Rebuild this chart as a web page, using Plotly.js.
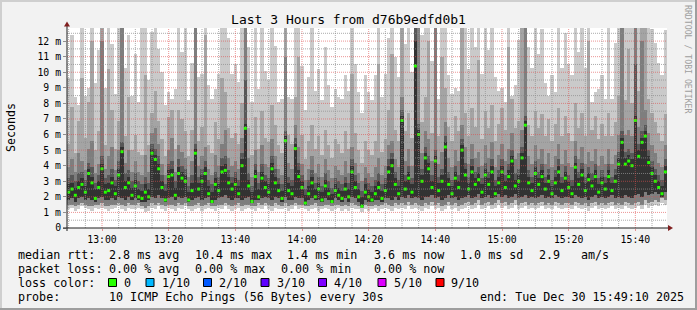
<!DOCTYPE html>
<html><head><meta charset="utf-8">
<script src="https://cdn.plot.ly/plotly-3.0.1.min.js"></script>
<style>html,body{margin:0;padding:0;background:#f2f2f2;}#chart{width:697px;height:310px;}
#chart .barlayer path{shape-rendering:crispEdges;}</style>
</head><body><div id="chart"></div>
<script>
// one value per minute, 12:50 .. 15:49 (ms)
const median = [
2.3,2.5,2.1,2.6,2.8,2.3,3.5,2.9,1.9,2.6,
3.8,2.3,2.4,2.9,2.2,3.4,4.9,2.6,2.9,2.1,
2.7,2.0,1.9,2.3,2.0,4.8,4.4,3.8,2.6,1.8,
3.3,3.4,2.1,3.5,3.2,3.0,1.8,2.4,4.8,2.5,
3.0,3.5,2.2,1.7,2.8,2.4,3.6,3.7,2.9,2.5,
2.8,2.2,4.0,6.4,2.7,1.7,3.3,2.0,3.2,2.6,
2.3,3.8,2.9,2.4,1.9,5.6,2.4,2.2,5.1,3.3,
2.6,1.6,2.2,2.9,2.0,2.5,1.8,2.7,2.2,1.7,
2.4,2.1,1.9,2.5,2.0,3.6,2.6,2.0,1.4,2.3,
2.0,1.8,2.2,2.6,1.9,2.4,3.6,4.0,2.8,2.2,
6.9,2.5,3.2,2.3,10.4,6.0,3.0,4.5,3.8,2.6,
4.3,2.4,3.0,5.2,2.8,2.2,3.2,2.6,5.0,3.4,
2.5,3.6,2.8,3.1,2.3,3.4,2.8,3.6,2.2,2.9,
3.6,2.6,3.3,4.3,2.7,3.0,4.5,6.6,2.9,2.4,
3.5,2.8,3.3,2.5,3.0,2.2,2.9,3.6,2.4,3.2,
2.6,2.2,3.9,2.8,3.4,2.4,3.1,2.7,3.3,2.3,
2.9,2.5,3.3,2.4,3.0,4.1,5.5,4.1,4.3,4.0,
6.9,4.6,5.5,5.9,4.2,3.5,3.0,2.6,2.2,3.6];
// smoke: ping 1 (min)
const pingMin = [
1.2,1.3,1.1,1.2,1.4,1.3,1.2,1.1,1.3,1.2,
1.3,1.2,1.1,1.2,1.3,1.4,1.2,1.1,1.3,1.2,
1.2,1.3,1.2,1.0,1.1,1.3,1.2,1.4,1.2,1.1,
1.3,1.2,1.1,1.3,1.2,1.4,1.2,1.1,1.2,1.3,
1.1,1.2,1.3,1.2,1.1,1.3,1.2,1.4,1.2,1.1,
1.2,1.3,1.1,1.2,1.3,1.2,1.1,1.3,1.2,1.4,
1.2,1.1,1.3,1.2,1.2,1.3,1.1,1.2,1.4,1.2,
1.3,1.2,1.1,1.2,1.3,1.1,1.2,1.3,1.2,1.1,
1.2,1.3,1.1,1.2,1.1,1.3,1.2,1.2,1.0,1.2,
1.1,1.2,1.3,1.1,1.2,1.3,1.2,1.1,1.3,1.2,
1.3,1.2,1.4,1.2,1.3,1.2,1.1,1.3,1.2,1.4,
1.2,1.3,1.1,1.2,1.4,1.2,1.3,1.1,1.2,1.3,
1.4,1.2,1.3,1.5,1.2,1.3,1.4,1.2,1.3,1.5,
1.3,1.4,1.2,1.3,1.5,1.2,1.3,1.4,1.2,1.3,
1.2,1.3,1.4,1.2,1.3,1.2,1.4,1.3,1.2,1.3,
1.3,1.2,1.4,1.3,1.2,1.3,1.1,1.3,1.4,1.2,
1.3,1.2,1.3,1.4,1.2,1.3,1.2,1.4,1.3,1.2,
1.3,1.4,1.2,1.5,1.3,1.4,1.5,1.4,1.6,1.5];
// ping 2
const pingLow = [
1.5,1.5,1.4,1.5,1.6,1.5,1.4,1.4,1.5,1.5,
1.6,1.4,1.4,1.5,1.5,1.6,1.5,1.4,1.6,1.5,
1.5,1.6,1.4,1.3,1.4,1.6,1.5,1.6,1.5,1.4,
1.5,1.5,1.4,1.6,1.5,1.6,1.4,1.4,1.5,1.6,
1.4,1.5,1.6,1.4,1.4,1.5,1.5,1.6,1.5,1.4,
1.5,1.6,1.4,1.5,1.5,1.4,1.4,1.6,1.5,1.6,
1.5,1.4,1.6,1.5,1.4,1.6,1.4,1.5,1.6,1.5,
1.5,1.4,1.4,1.5,1.6,1.4,1.4,1.5,1.5,1.4,
1.5,1.5,1.4,1.5,1.4,1.6,1.5,1.4,1.3,1.5,
1.4,1.4,1.5,1.4,1.5,1.6,1.5,1.4,1.6,1.5,
1.6,1.5,1.7,1.5,1.6,1.5,1.4,1.6,1.5,1.7,
1.5,1.6,1.4,1.5,1.7,1.5,1.6,1.4,1.5,1.6,
1.7,1.5,1.6,1.8,1.5,1.6,1.7,1.5,1.6,1.8,
1.6,1.7,1.5,1.6,1.8,1.5,1.6,1.7,1.5,1.6,
1.5,1.6,1.7,1.5,1.6,1.5,1.7,1.6,1.5,1.6,
1.6,1.5,1.7,1.6,1.5,1.6,1.4,1.6,1.7,1.5,
1.6,1.5,1.6,1.7,1.5,1.6,1.5,1.7,1.6,1.5,
1.6,1.7,1.5,1.8,1.6,1.7,1.8,1.7,1.9,1.8];
// ping 4
const pingCoreLo = [
1.8,1.9,1.7,1.9,2.0,1.8,1.9,1.8,1.7,1.9,
2.0,1.8,1.8,1.9,1.8,2.0,1.9,1.8,2.0,1.8,
1.9,1.8,1.7,1.7,1.8,2.0,1.9,2.1,1.9,1.7,
1.9,2.0,1.8,2.0,1.9,2.0,1.7,1.8,1.9,2.0,
1.8,1.9,2.0,1.6,1.8,1.9,2.0,2.1,1.9,1.8,
1.9,1.9,1.8,1.9,2.0,1.6,1.8,1.8,1.9,2.0,
1.9,1.8,2.0,1.9,1.7,2.0,1.8,1.8,2.0,1.9,
1.9,1.5,1.8,1.9,1.8,1.8,1.7,1.9,1.8,1.6,
1.9,1.8,1.7,1.9,1.7,2.0,1.9,1.7,1.4,1.8,
1.7,1.7,1.8,1.8,1.7,1.9,1.9,1.8,2.0,1.8,
2.0,1.9,2.1,1.9,2.0,1.9,1.8,2.0,2.0,2.1,
1.9,2.0,1.8,1.9,2.1,1.9,2.0,1.8,1.9,2.0,
2.1,1.9,2.0,2.2,1.9,2.0,2.1,1.9,2.0,2.2,
2.0,2.1,1.9,2.0,2.2,1.9,2.0,2.1,1.9,2.0,
1.9,2.0,2.1,1.9,2.0,1.9,2.1,2.0,1.9,2.0,
2.0,1.9,2.1,2.0,1.9,2.0,1.8,2.0,2.1,1.9,
2.0,1.9,2.0,2.1,1.9,2.0,1.9,2.1,2.0,1.9,
2.1,2.2,2.0,2.3,2.1,2.2,2.3,2.2,2.0,2.3];
// ping 6
const pingCoreHi = [
2.8,2.9,2.6,3.0,3.2,2.7,3.8,3.3,2.5,3.0,
4.1,2.8,2.9,3.3,2.7,3.8,5.2,3.0,3.3,2.6,
3.1,2.5,2.4,2.8,2.5,5.1,4.7,4.1,3.0,2.4,
3.7,3.8,2.6,3.9,3.6,3.4,2.3,2.9,5.1,2.9,
3.4,3.9,2.7,2.3,3.2,2.8,4.0,4.1,3.3,2.9,
3.2,2.7,4.4,6.7,3.1,2.3,3.7,2.5,3.6,3.0,
2.8,4.2,3.3,2.8,2.4,5.9,2.9,2.7,5.4,3.7,
3.0,2.1,2.7,3.3,2.5,2.9,2.3,3.1,2.6,2.2,
2.8,2.6,2.4,2.9,2.5,4.0,3.0,2.5,2.0,2.8,
2.5,2.3,2.7,3.0,2.4,2.8,4.0,4.4,3.2,2.7,
7.2,3.0,3.6,2.8,12.0,6.3,3.4,4.8,4.2,3.0,
4.6,2.9,3.4,5.5,3.2,2.7,3.6,3.0,5.3,3.8,
2.9,4.0,3.2,3.5,2.8,3.8,3.2,4.0,2.7,3.3,
4.0,3.0,3.7,4.6,3.1,3.4,4.8,6.9,3.3,2.9,
3.9,3.2,3.7,2.9,3.4,2.7,3.3,4.0,2.9,3.6,
3.0,2.7,4.2,3.2,3.8,2.9,3.5,3.1,3.7,2.8,
3.3,2.9,3.7,2.9,3.4,4.5,5.8,4.5,4.7,4.4,
7.2,5.0,5.8,6.2,4.6,3.9,3.4,3.0,2.7,4.0];
// ping 7
const ping7 = [
3.2,3.4,3.0,3.5,3.6,3.1,4.2,3.9,2.9,3.4,
4.6,3.2,3.4,3.8,3.1,4.3,5.5,3.5,3.7,3.0,
3.5,3.0,2.8,3.3,2.9,5.4,5.1,4.6,3.4,2.8,
4.1,4.3,3.0,4.4,4.0,3.8,2.7,3.4,5.4,3.3,
3.8,4.3,3.1,2.8,3.6,3.3,4.5,4.6,3.7,3.3,
3.6,3.1,4.8,9.5,3.5,2.7,4.1,2.9,4.1,3.4,
3.2,4.6,3.8,3.2,2.8,6.2,3.3,3.1,5.8,4.2,
3.4,2.5,3.1,3.7,2.9,3.3,2.7,3.5,3.0,2.6,
3.2,3.0,2.8,3.3,2.9,4.4,3.4,2.9,2.4,3.2,
2.9,2.7,3.1,3.5,2.8,3.2,4.4,4.8,3.6,3.1,
7.6,3.4,4.0,3.2,13.0,6.7,3.8,5.2,4.6,3.4,
5.0,3.3,3.8,5.9,3.6,3.1,4.0,3.4,5.7,4.2,
3.3,4.4,3.6,3.9,3.2,4.2,3.6,4.4,3.1,3.7,
4.4,3.4,4.1,5.0,3.5,3.8,5.2,7.2,3.7,3.3,
4.3,3.6,4.1,3.3,3.8,3.1,3.7,4.4,3.3,4.0,
3.4,3.1,4.6,3.6,4.2,3.3,3.9,3.5,4.1,3.2,
3.7,3.3,4.1,3.3,3.8,4.9,6.2,4.9,5.1,4.8,
10.5,5.4,6.2,6.6,5.0,4.3,3.8,3.4,3.1,4.4];
// ping 8
const ping8 = [
3.9,4.4,3.6,4.8,4.3,3.7,5.1,5.6,3.5,4.1,
12.0,3.8,4.6,5.2,3.7,5.0,13.0,4.2,5.0,3.6,
4.3,3.6,3.4,4.7,3.6,6.1,6.4,5.4,4.1,3.4,
5.0,5.8,3.6,5.3,4.9,4.5,3.3,4.3,13.0,4.0,
4.6,5.2,3.8,3.4,4.7,4.0,5.4,6.3,4.5,4.0,
4.3,3.8,5.8,13.0,4.5,3.3,5.0,3.6,5.3,4.1,
3.9,5.7,4.6,3.8,3.4,11.0,4.2,3.8,6.6,5.2,
4.1,3.1,3.8,4.6,3.5,4.1,3.3,4.4,3.7,3.2,
4.0,3.7,3.4,4.3,3.5,5.2,4.2,3.5,3.0,3.9,
3.5,3.3,3.9,4.5,3.4,4.0,5.3,5.6,4.4,3.9,
8.4,4.3,5.1,4.0,13.0,13.0,4.8,6.2,5.7,4.3,
13.0,4.1,4.9,6.8,4.5,3.9,5.0,4.3,6.6,5.2,
4.1,5.4,4.5,4.9,4.0,5.3,4.5,5.5,3.9,4.7,
5.4,4.3,5.1,6.1,4.4,4.8,6.3,13.0,4.6,4.1,
5.3,4.4,5.1,4.1,4.8,3.9,4.6,5.4,4.1,5.0,
4.2,3.9,5.6,4.4,5.2,4.1,4.9,4.3,5.1,4.0,
4.6,4.1,5.1,4.1,4.7,6.0,13.0,6.0,6.3,5.9,
13.0,6.5,12.0,7.6,6.1,5.3,4.8,4.2,3.9,5.3];
// ping 9
const ping9 = [
5.4,7.8,4.8,6.9,9.6,5.8,8.1,12.0,5.0,6.2,
13.0,5.3,10.2,7.6,5.1,6.9,13.0,5.9,8.4,5.0,
6.0,4.9,4.7,9.8,5.3,7.4,8.8,6.9,5.7,4.6,
7.1,7.6,5.1,7.6,7.0,6.2,4.6,6.3,13.0,5.6,
6.5,12.4,5.3,4.8,6.8,5.7,9.6,8.7,6.4,5.8,
6.1,5.4,8.0,13.0,6.4,4.7,7.1,5.1,7.5,5.8,
5.5,7.9,6.6,5.3,4.8,13.0,6.0,5.4,8.4,11.0,
6.0,4.4,5.6,6.6,5.1,5.9,4.7,6.3,5.3,4.5,
5.7,5.4,4.8,6.2,5.1,9.9,6.1,5.0,4.2,5.6,
5.0,4.7,5.6,10.5,4.9,5.7,7.6,11.2,6.3,5.6,
13.0,6.2,7.4,5.8,13.0,13.0,6.8,8.4,12.0,6.1,
13.0,5.9,11.0,9.0,6.5,5.6,7.2,6.2,13.0,7.4,
5.9,7.7,6.5,10.8,5.7,7.5,6.4,7.9,5.6,6.7,
7.7,6.3,11.6,8.3,6.4,6.9,13.0,13.0,6.6,5.9,
7.5,6.4,7.3,5.9,7.0,5.6,6.7,7.7,5.9,7.2,
6.1,5.6,8.0,6.4,7.4,5.9,12.0,6.3,7.2,5.7,
6.7,5.9,7.4,5.9,6.8,8.5,13.0,8.2,11.5,8.0,
13.0,8.8,13.0,13.0,8.3,7.4,6.8,6.1,5.6,7.3];
// ping 10 (max)
const pingMax = [
9.6,12.4,8.4,7.9,13.0,8.5,9.0,13.0,9.3,11.4,
13.0,9.0,13.0,11.8,8.6,13.0,13.0,10.3,12.4,8.5,
11.2,8.1,13.0,13.0,9.5,12.6,13.0,11.5,10.0,7.9,
8.7,8.3,8.9,13.0,11.3,13.0,8.2,10.6,13.0,9.7,
9.9,13.0,9.2,8.3,8.9,9.9,13.0,13.0,12.2,9.9,
10.5,9.4,13.0,13.0,11.6,8.1,13.0,8.9,13.0,10.1,
9.5,13.0,11.7,8.1,8.3,13.0,8.4,8.3,13.0,13.0,
10.4,7.6,9.7,13.0,8.8,10.2,8.2,11.6,9.2,7.8,
8.9,8.4,8.3,9.8,8.8,13.0,10.5,8.7,7.4,9.8,
8.7,8.2,9.8,13.0,8.4,9.9,12.2,13.0,11.0,9.7,
13.0,11.8,13.0,10.0,13.0,13.0,12.4,13.0,13.0,10.7,
13.0,8.3,13.0,13.0,9.8,8.6,9.0,8.8,13.0,12.9,
10.2,13.0,11.6,13.0,9.9,13.0,11.4,13.0,9.7,8.8,
9.0,8.1,13.0,8.5,9.2,12.1,13.0,13.0,11.6,10.3,
13.0,11.2,12.8,9.3,8.5,9.8,8.7,13.0,10.3,12.5,
10.5,9.8,13.0,11.3,12.9,10.3,13.0,8.1,8.7,8.9,
9.8,8.3,13.0,8.3,11.9,13.0,13.0,13.0,13.0,13.0,
13.0,13.0,13.0,13.0,13.0,12.8,11.9,10.6,9.8,12.7];

const yTickVals = [0,1,2,3,4,5,6,7,8,9,10,11,12];
const yTickText = ['0','1 m','2 m','3 m','4 m','5 m','6 m','7 m','8 m','9 m','10 m','11 m','12 m'];
const titleText = 'Last 3 Hours from d76b9edfd0b1';
const rttStats = ['2.8 ms avg','10.4 ms max','1.4 ms min','3.6 ms now','1.0 ms sd','2.9','am/s'];
const lossStats = ['0.00 % avg','0.00 % max','0.00 % min','0.00 % now'];
const lossLabels = ['0','1/10','2/10','3/10','4/10','5/10','9/10'];
const lossColors = ['#26ff00','#00b8ff','#0059ff','#5e00ff','#7e00ff','#dd00ff','#ff0000'];
const probeText = '10 ICMP Echo Pings (56 Bytes) every 30s';
const endText = 'end: Tue Dec 30 15:49:10 2025';

// ---- geometry helpers ----
const L=67, T=28, PW=600, PH=200;
const px = p => (p-L)/PW;
const py = p => (T+PH-p)/PH;
const pad = n => (n<10?'0':'')+n;
const tstr = m => `2025-12-30 ${pad(Math.floor(m/60))}:${pad(m%60)}:00`;
const startMin = 12*60+50;
const times = median.map((_,i)=>tstr(startMin+i));

const bands = [
  {lo:pingMin, hi:pingMax, c:'#cacaca'},
  {lo:pingLow, hi:ping9, c:'#a4a4a4'},
  {lo:pingLow, hi:ping8, c:'#7e7e7e'},
  {lo:pingCoreLo, hi:ping7, c:'#585858'},
  {lo:pingCoreLo, hi:pingCoreHi, c:'#323232'}
];
const traces = bands.map(b=>({
  type:'bar', x:times, base:b.lo, y:b.hi.map((v,i)=>v-b.lo[i]), width:60000,
  marker:{color:b.c, line:{width:0}}, hoverinfo:'skip', showlegend:false
}));
traces.push({type:'scatter', mode:'markers', x:times, y:median,
  marker:{symbol:'square', size:3, color:lossColors[0], line:{width:0}}, hoverinfo:'skip', showlegend:false});

// ---- grid (drawn above the smoke, as rrdtool does) ----
const shapes = [];
const MAJ='rgba(222,79,79,0.6)', MIN='rgba(143,143,143,0.75)';
for (let k=1;k<=25;k++){
  const v=k*0.5;
  shapes.push({type:'line', xref:'paper', yref:'y', x0:0, x1:1, y0:v, y1:v,
    line:{color:(k%2===0)?MAJ:MIN, width:1, dash:'1px,1px'}});
}
for (let m=startMin; m<startMin+180; m+=5){
  shapes.push({type:'line', xref:'x', yref:'paper', x0:tstr(m), x1:tstr(m), y0:0, y1:1,
    line:{color:(m%20===0)?MAJ:MIN, width:1, dash:'1px,1px'}});
}
// axes with arrows
shapes.push({type:'line', xref:'paper', yref:'paper', x0:px(63), x1:px(670), y0:py(228), y1:py(228), line:{color:'#1f1f1f', width:1}});
shapes.push({type:'line', xref:'paper', yref:'paper', x0:px(67), x1:px(67), y0:py(231), y1:py(24), line:{color:'#1f1f1f', width:1}});
shapes.push({type:'path', xref:'paper', yref:'paper', fillcolor:'#801f1f', line:{width:0},
  path:`M${px(668)},${py(225)} L${px(673)},${py(228)} L${px(668)},${py(231)} Z`});
shapes.push({type:'path', xref:'paper', yref:'paper', fillcolor:'#801f1f', line:{width:0},
  path:`M${px(64)},${py(26.5)} L${px(67)},${py(21.5)} L${px(70)},${py(26.5)} Z`});
// frame
const fx0=px(0), fx1=px(697), fy0=py(310), fy1=py(0);
shapes.push({type:'rect', xref:'paper', yref:'paper', x0:fx0, x1:fx1, y0:py(2), y1:fy1, fillcolor:'#cfcfcf', line:{width:0}});
shapes.push({type:'rect', xref:'paper', yref:'paper', x0:fx0, x1:px(2), y0:fy0, y1:fy1, fillcolor:'#cfcfcf', line:{width:0}});
shapes.push({type:'rect', xref:'paper', yref:'paper', x0:fx0, x1:fx1, y0:fy0, y1:py(308), fillcolor:'#9e9e9e', line:{width:0}});
shapes.push({type:'rect', xref:'paper', yref:'paper', x0:px(695), x1:fx1, y0:fy0, y1:fy1, fillcolor:'#9e9e9e', line:{width:0}});

// ---- legend text ----
const FS=11.7, FF='DejaVu Sans Mono';
const ann = [];
const txt = (t,x,y,extra) => ann.push(Object.assign({text:t, xref:'paper', yref:'paper', x:px(x), y:py(y),
  xanchor:'left', yanchor:'middle', showarrow:false, font:{family:FF, size:FS, color:'#000'}}, extra||{}));
const y1=254.5, y2=268.5, y3=282.5, y4=296.5;
txt('median rtt:',16,y1);
[107,192.7,285,372.3,458.3,537.3,579.3].forEach((x,i)=>txt(rttStats[i],x,y1));
txt('packet loss:',16,y2);
[107,193.3,279.3,372.3].forEach((x,i)=>txt(lossStats[i],x,y2));
txt('loss color:',16,y3);
const boxX=[108.5,146,203.5,261,318.5,378,436];
const labX=[122.3,160,216.7,275,331.7,391.7,449.3];
lossLabels.forEach((l,i)=>{
  txt(l,labX[i],y3);
  shapes.push({type:'rect', xref:'paper', yref:'paper', x0:px(boxX[i]), x1:px(boxX[i]+8), y0:py(286.5), y1:py(278.5),
    fillcolor:lossColors[i], line:{color:'#000', width:1}});
});
txt('probe:',16,y4);
txt(probeText,107,y4);
txt(endText,478,y4);
ann.push({text:'Seconds', xref:'paper', yref:'paper', x:px(11), y:py(128), textangle:-90,
  xanchor:'center', yanchor:'middle', showarrow:false, font:{family:FF, size:11.6, color:'#000'}});
ann.push({text:'RRDTOOL / TOBI OETIKER', xref:'paper', yref:'paper', x:px(688), y:py(59), textangle:90,
  xanchor:'center', yanchor:'middle', showarrow:false, font:{family:FF, size:8.2, color:'#9e9e9e'}});

const layout = {
  width:697, height:310, margin:{l:L, r:30, t:T, b:82, pad:0},
  paper_bgcolor:'#f2f2f2', plot_bgcolor:'#ffffff',
  barmode:'overlay', bargap:0, showlegend:false,
  font:{family:FF, size:9.8, color:'#000'},
  title:{text:titleText, font:{family:FF, size:13, color:'#000'}, xref:'container', x:0.5, xanchor:'center',
    yref:'container', y:1-19.5/310, yanchor:'middle'},
  xaxis:{type:'date', range:['2025-12-30 12:49:30','2025-12-30 15:49:30'], tickformat:'%H:%M',
    tick0:'2025-12-30 13:00:00', dtick:1200000, showgrid:false, zeroline:false, showline:false,
    ticks:'outside', ticklen:2, tickcolor:MAJ, tickfont:{family:FF, size:9.8, color:'#000'}},
  yaxis:{range:[0,12.84], tickvals:yTickVals, ticktext:yTickText, showgrid:false, zeroline:false, showline:false,
    ticks:'outside', ticklen:3, tickcolor:'#8f8f8f', tickfont:{family:FF, size:9.8, color:'#000'}},
  shapes:shapes, annotations:ann
};
Plotly.newPlot('chart', traces, layout, {staticPlot:true, displayModeBar:false});
</script></body></html>
